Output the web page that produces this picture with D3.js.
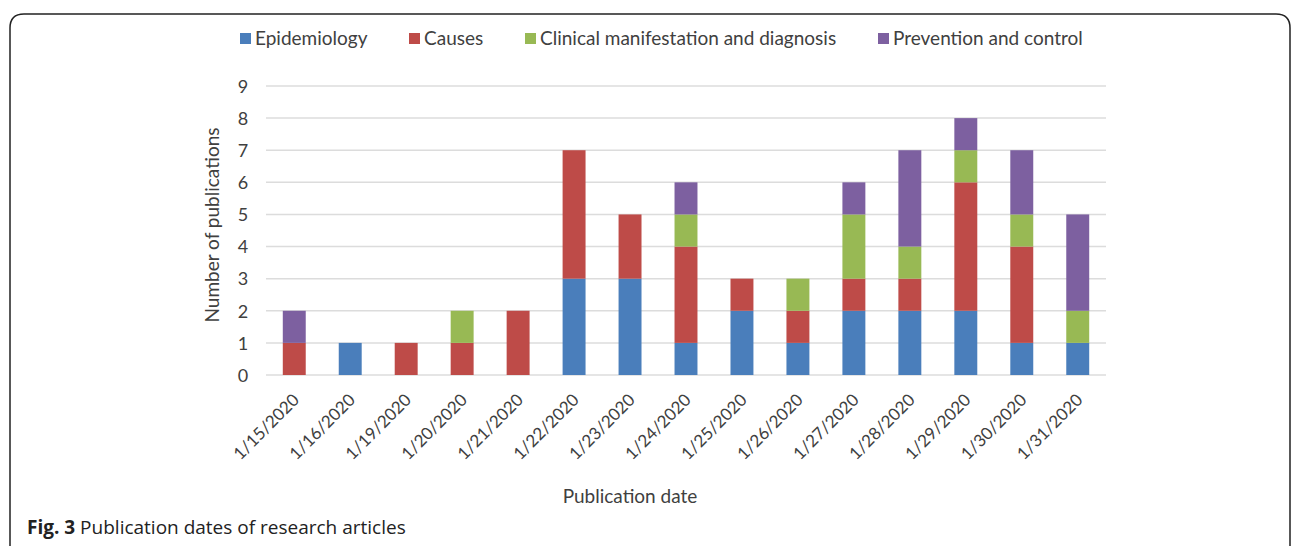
<!DOCTYPE html>
<html><head><meta charset="utf-8">
<script src="https://cdn.jsdelivr.net/npm/d3@7"></script>
<style>
html,body{margin:0;padding:0;background:#fff;}
svg{display:block;}
</style></head>
<body>
<svg id="chart" width="1292" height="546"></svg>
<script>
const dates = ["1/15/2020","1/16/2020","1/19/2020","1/20/2020","1/21/2020","1/22/2020","1/23/2020","1/24/2020","1/25/2020","1/26/2020","1/27/2020","1/28/2020","1/29/2020","1/30/2020","1/31/2020"];
const seriesNames = ["Epidemiology","Causes","Clinical manifestation and diagnosis","Prevention and control"];
const epidemiology = [0,1,0,0,0,3,3,1,2,1,2,2,2,1,1];
const causes       = [1,0,1,1,2,4,2,3,1,1,1,1,4,3,0];
const clinical     = [0,0,0,1,0,0,0,1,0,1,2,1,1,1,1];
const prevention   = [1,0,0,0,0,0,0,1,0,0,1,3,1,2,3];
const colors = ["#4a7ebb","#be4b48","#98b954","#7d60a0"];
const yTicks = [0,1,2,3,4,5,6,7,8,9];

const svg = d3.select("#chart");
const font = "Lato, 'Open Sans', sans-serif";

// frame
svg.append("path")
  .attr("d","M10,546 L10,28 Q10,14 24,14 L1276,14 Q1290,14 1290,28 L1290,546")
  .attr("fill","none").attr("stroke","#222").attr("stroke-width",1.5);

const rows = dates.map((d,i)=>({date:d,
  "Epidemiology":epidemiology[i],"Causes":causes[i],
  "Clinical manifestation and diagnosis":clinical[i],"Prevention and control":prevention[i]}));
const stacked = d3.stack().keys(seriesNames)(rows);

const x = d3.scaleBand().domain(dates).range([266,1106]).paddingInner(0.59).paddingOuter(0.3);
const y = d3.scaleLinear().domain([0,9]).range([375,86]);

// grid
svg.append("g").selectAll("line").data(yTicks).join("line")
  .attr("x1",266).attr("x2",1106)
  .attr("y1",d=>y(d)).attr("y2",d=>y(d))
  .attr("stroke","#dcdcdc").attr("stroke-width",1.5);

// bars
svg.append("g").selectAll("g").data(stacked).join("g")
  .attr("fill",(d,i)=>colors[i])
  .selectAll("rect").data(d=>d).join("rect")
  .attr("x",d=>x(d.data.date)).attr("width",x.bandwidth())
  .attr("y",d=>y(d[1])).attr("height",d=>y(d[0])-y(d[1]));

// y axis
const yAxis = d3.axisLeft(y).tickValues(yTicks).tickSize(0).tickPadding(0);
const ga = svg.append("g").attr("transform","translate(243,0)").call(yAxis);
ga.select(".domain").remove();
ga.selectAll("text").attr("font-family",font).attr("font-size",18).attr("fill","#404040").attr("text-anchor","middle").attr("dy","0.35em");

// x axis
const xAxis = d3.axisBottom(x).tickSize(0).tickPadding(0);
const gx = svg.append("g").attr("transform","translate(0,375)").call(xAxis);
gx.select(".domain").remove();
gx.selectAll("text").attr("font-family",font).attr("font-size",17).attr("fill","#404040")
  .attr("text-anchor","end").attr("dy",null).attr("y",0)
  .attr("transform","translate(6,26) rotate(-45)");

// axis titles
svg.append("text").attr("transform","translate(219,225) rotate(-90)")
  .attr("text-anchor","middle").attr("font-family",font).attr("font-size",19).attr("fill","#404040")
  .text("Number of publications");
svg.append("text").attr("x",630).attr("y",503).attr("text-anchor","middle")
  .attr("font-family",font).attr("font-size",19).attr("fill","#404040").text("Publication date");

// legend
const legX = [240,409,525,878];
const lg = svg.append("g").selectAll("g").data(seriesNames).join("g")
  .attr("transform",(d,i)=>`translate(${legX[i]},38)`);
lg.append("rect").attr("x",0).attr("y",-5).attr("width",11).attr("height",11).attr("fill",(d,i)=>colors[i]);
lg.append("text").attr("x",15).attr("y",0).attr("dy","0.35em")
  .attr("font-family",font).attr("font-size",19).attr("fill","#404040").text(d=>d);

// caption
const cap = svg.append("text").attr("x",27).attr("y",534).attr("font-family","'Open Sans', sans-serif").attr("font-size",19).attr("fill","#222");
cap.append("tspan").attr("font-weight","bold").text("Fig. 3");
cap.append("tspan").text(" Publication dates of research articles");
</script>
</body></html>
